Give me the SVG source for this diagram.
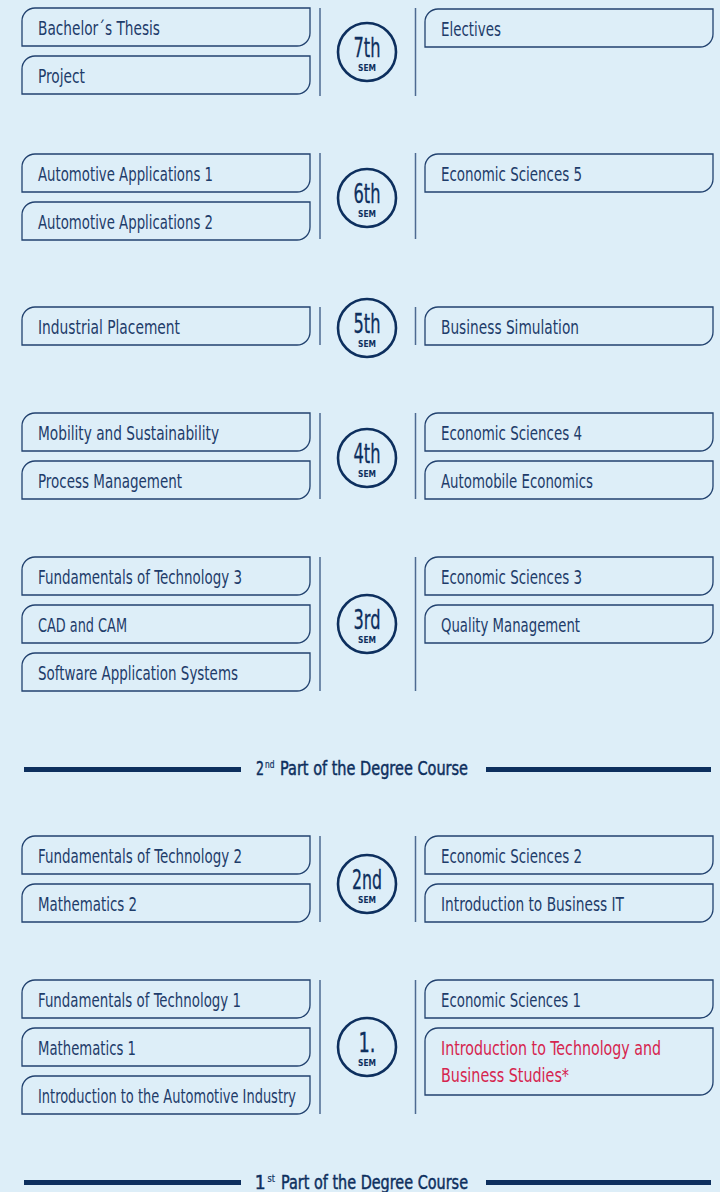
<svg xmlns="http://www.w3.org/2000/svg" xmlns:xlink="http://www.w3.org/1999/xlink" width="720" height="1192" viewBox="0 0 720 1192">
<defs>
<style>
.bg{fill:#ddeef8}
.box{fill:none;stroke:#22426f;stroke-width:1.3}
.lbl{font-family:"Liberation Sans Narrow","DejaVu Sans Condensed","Liberation Sans",sans-serif;font-size:19px;fill:#1e3c6a}
.red{fill:#d6254f}
.vl{stroke:#4d6a92;stroke-width:1.5}
.circ{fill:none;stroke:#0d2f5e;stroke-width:2.6}
.num{font-family:"Liberation Sans Narrow","DejaVu Sans Condensed","Liberation Sans",sans-serif;font-size:26px;fill:#0d2f5e;stroke:#0d2f5e;stroke-width:0.3;text-anchor:middle}
.sem{font-family:"Liberation Sans Narrow","DejaVu Sans Condensed","Liberation Sans",sans-serif;font-size:9.5px;font-weight:bold;fill:#0d2f5e;text-anchor:middle}
.bar{fill:#0d2f5e}
.hd{font-family:"Liberation Sans Narrow","DejaVu Sans Condensed","Liberation Sans",sans-serif;font-size:19px;fill:#0d2f5e;stroke:#0d2f5e;stroke-width:0.45}
.sup{font-size:10px;stroke-width:0.2}
</style>
<path id="b" d="M0,38 V13 A13,13 0 0 1 13,0 H288 V25 A13,13 0 0 1 275,38 Z"/>
<path id="bt" d="M0,67 V13 A13,13 0 0 1 13,0 H288 V54 A13,13 0 0 1 275,67 Z"/>
</defs>
<rect class="bg" x="0" y="0" width="720" height="1192"/>

<g id="connectors">
<line class="vl" x1="320" y1="8" x2="320" y2="96"/><line class="vl" x1="415.5" y1="8" x2="415.5" y2="96"/>
<line class="vl" x1="320" y1="153" x2="320" y2="239"/><line class="vl" x1="415.5" y1="153" x2="415.5" y2="239"/>
<line class="vl" x1="320" y1="307" x2="320" y2="345"/><line class="vl" x1="415.5" y1="307" x2="415.5" y2="345"/>
<line class="vl" x1="320" y1="413" x2="320" y2="499"/><line class="vl" x1="415.5" y1="413" x2="415.5" y2="499"/>
<line class="vl" x1="320" y1="557" x2="320" y2="691"/><line class="vl" x1="415.5" y1="557" x2="415.5" y2="691"/>
<line class="vl" x1="320" y1="836" x2="320" y2="922"/><line class="vl" x1="415.5" y1="836" x2="415.5" y2="922"/>
<line class="vl" x1="320" y1="980" x2="320" y2="1114"/><line class="vl" x1="415.5" y1="980" x2="415.5" y2="1114"/>
</g>

<!-- 7th -->
<g id="n7-l1"><use href="#b" class="box" x="22" y="8"/><text class="lbl" x="38" y="35" textLength="122" lengthAdjust="spacingAndGlyphs">Bachelor´s Thesis</text></g>
<g id="n7-l2"><use href="#b" class="box" x="22" y="56"/><text class="lbl" x="38" y="83" textLength="47" lengthAdjust="spacingAndGlyphs">Project</text></g>
<g id="n7-sem"><circle class="circ" cx="367" cy="52" r="29"/><text class="num" x="367" y="57" textLength="27" lengthAdjust="spacingAndGlyphs">7th</text><text class="sem" x="367" y="71" textLength="18" lengthAdjust="spacingAndGlyphs">SEM</text></g>
<g id="n7-r1"><use href="#b" class="box" x="425" y="9"/><text class="lbl" x="441" y="36" textLength="60" lengthAdjust="spacingAndGlyphs">Electives</text></g>

<!-- 6th -->
<g id="n6-l1"><use href="#b" class="box" x="22" y="154"/><text class="lbl" x="38" y="181" textLength="175" lengthAdjust="spacingAndGlyphs">Automotive Applications 1</text></g>
<g id="n6-l2"><use href="#b" class="box" x="22" y="202"/><text class="lbl" x="38" y="229" textLength="175" lengthAdjust="spacingAndGlyphs">Automotive Applications 2</text></g>
<g id="n6-sem"><circle class="circ" cx="367" cy="198" r="29"/><text class="num" x="367" y="203" textLength="27" lengthAdjust="spacingAndGlyphs">6th</text><text class="sem" x="367" y="217" textLength="18" lengthAdjust="spacingAndGlyphs">SEM</text></g>
<g id="n6-r1"><use href="#b" class="box" x="425" y="154"/><text class="lbl" x="441" y="181" textLength="141" lengthAdjust="spacingAndGlyphs">Economic Sciences 5</text></g>

<!-- 5th -->
<g id="n5-l1"><use href="#b" class="box" x="22" y="307"/><text class="lbl" x="38" y="334" textLength="142" lengthAdjust="spacingAndGlyphs">Industrial Placement</text></g>
<g id="n5-sem"><circle class="circ" cx="367" cy="328" r="29"/><text class="num" x="367" y="333" textLength="27" lengthAdjust="spacingAndGlyphs">5th</text><text class="sem" x="367" y="347" textLength="18" lengthAdjust="spacingAndGlyphs">SEM</text></g>
<g id="n5-r1"><use href="#b" class="box" x="425" y="307"/><text class="lbl" x="441" y="334" textLength="138" lengthAdjust="spacingAndGlyphs">Business Simulation</text></g>

<!-- 4th -->
<g id="n4-l1"><use href="#b" class="box" x="22" y="413"/><text class="lbl" x="38" y="440" textLength="181" lengthAdjust="spacingAndGlyphs">Mobility and Sustainability</text></g>
<g id="n4-l2"><use href="#b" class="box" x="22" y="461"/><text class="lbl" x="38" y="488" textLength="144" lengthAdjust="spacingAndGlyphs">Process Management</text></g>
<g id="n4-sem"><circle class="circ" cx="367" cy="458" r="29"/><text class="num" x="367" y="463" textLength="27" lengthAdjust="spacingAndGlyphs">4th</text><text class="sem" x="367" y="477" textLength="18" lengthAdjust="spacingAndGlyphs">SEM</text></g>
<g id="n4-r1"><use href="#b" class="box" x="425" y="413"/><text class="lbl" x="441" y="440" textLength="141" lengthAdjust="spacingAndGlyphs">Economic Sciences 4</text></g>
<g id="n4-r2"><use href="#b" class="box" x="425" y="461"/><text class="lbl" x="441" y="488" textLength="152" lengthAdjust="spacingAndGlyphs">Automobile Economics</text></g>

<!-- 3rd -->
<g id="n3-l1"><use href="#b" class="box" x="22" y="557"/><text class="lbl" x="38" y="584" textLength="204" lengthAdjust="spacingAndGlyphs">Fundamentals of Technology 3</text></g>
<g id="n3-l2"><use href="#b" class="box" x="22" y="605"/><text class="lbl" x="38" y="632" textLength="89" lengthAdjust="spacingAndGlyphs">CAD and CAM</text></g>
<g id="n3-l3"><use href="#b" class="box" x="22" y="653"/><text class="lbl" x="38" y="680" textLength="200" lengthAdjust="spacingAndGlyphs">Software Application Systems</text></g>
<g id="n3-sem"><circle class="circ" cx="367" cy="624" r="29"/><text class="num" x="367" y="629" textLength="27" lengthAdjust="spacingAndGlyphs">3rd</text><text class="sem" x="367" y="643" textLength="18" lengthAdjust="spacingAndGlyphs">SEM</text></g>
<g id="n3-r1"><use href="#b" class="box" x="425" y="557"/><text class="lbl" x="441" y="584" textLength="141" lengthAdjust="spacingAndGlyphs">Economic Sciences 3</text></g>
<g id="n3-r2"><use href="#b" class="box" x="425" y="605"/><text class="lbl" x="441" y="632" textLength="139" lengthAdjust="spacingAndGlyphs">Quality Management</text></g>

<!-- 2nd part heading -->
<g id="h2">
<rect class="bar" x="24" y="767" width="217" height="5"/>
<rect class="bar" x="486" y="767" width="225" height="5"/>
<text class="hd" x="256" y="775" textLength="8" lengthAdjust="spacingAndGlyphs">2</text>
<text class="hd sup" x="265" y="768" textLength="9.5" lengthAdjust="spacingAndGlyphs">nd</text>
<text class="hd" x="280" y="775" textLength="188" lengthAdjust="spacingAndGlyphs">Part of the Degree Course</text>
</g>

<!-- 2nd -->
<g id="n2-l1"><use href="#b" class="box" x="22" y="836"/><text class="lbl" x="38" y="863" textLength="204" lengthAdjust="spacingAndGlyphs">Fundamentals of Technology 2</text></g>
<g id="n2-l2"><use href="#b" class="box" x="22" y="884"/><text class="lbl" x="38" y="911" textLength="99" lengthAdjust="spacingAndGlyphs">Mathematics 2</text></g>
<g id="n2-sem"><circle class="circ" cx="367" cy="884" r="29"/><text class="num" x="367" y="889" textLength="30" lengthAdjust="spacingAndGlyphs">2nd</text><text class="sem" x="367" y="903" textLength="18" lengthAdjust="spacingAndGlyphs">SEM</text></g>
<g id="n2-r1"><use href="#b" class="box" x="425" y="836"/><text class="lbl" x="441" y="863" textLength="141" lengthAdjust="spacingAndGlyphs">Economic Sciences 2</text></g>
<g id="n2-r2"><use href="#b" class="box" x="425" y="884"/><text class="lbl" x="441" y="911" textLength="183" lengthAdjust="spacingAndGlyphs">Introduction to Business IT</text></g>

<!-- 1st -->
<g id="n1-l1"><use href="#b" class="box" x="22" y="980"/><text class="lbl" x="38" y="1007" textLength="203" lengthAdjust="spacingAndGlyphs">Fundamentals of Technology 1</text></g>
<g id="n1-l2"><use href="#b" class="box" x="22" y="1028"/><text class="lbl" x="38" y="1055" textLength="98" lengthAdjust="spacingAndGlyphs">Mathematics 1</text></g>
<g id="n1-l3"><use href="#b" class="box" x="22" y="1076"/><text class="lbl" x="38" y="1103" textLength="258" lengthAdjust="spacingAndGlyphs">Introduction to the Automotive Industry</text></g>
<g id="n1-sem"><circle class="circ" cx="367" cy="1047" r="29"/><text class="num" x="367" y="1052" textLength="17" lengthAdjust="spacingAndGlyphs">1.</text><text class="sem" x="367" y="1066" textLength="18" lengthAdjust="spacingAndGlyphs">SEM</text></g>
<g id="n1-r1"><use href="#b" class="box" x="425" y="980"/><text class="lbl" x="441" y="1007" textLength="140" lengthAdjust="spacingAndGlyphs">Economic Sciences 1</text></g>
<g id="n1-r2"><use href="#bt" class="box" x="425" y="1028"/><text class="lbl red" x="441" y="1055" textLength="220" lengthAdjust="spacingAndGlyphs">Introduction to Technology and</text><text class="lbl red" x="441" y="1082" textLength="128" lengthAdjust="spacingAndGlyphs">Business Studies*</text></g>

<!-- 1st part heading -->
<g id="h1">
<rect class="bar" x="24" y="1180" width="217" height="5"/>
<rect class="bar" x="486" y="1180" width="225" height="5"/>
<text class="hd" x="265.5" y="1189" text-anchor="end">1</text>
<text class="hd sup" x="267.5" y="1182" textLength="7.5" lengthAdjust="spacingAndGlyphs">st</text>
<text class="hd" x="281" y="1189" textLength="187" lengthAdjust="spacingAndGlyphs">Part of the Degree Course</text>
</g>
</svg>
